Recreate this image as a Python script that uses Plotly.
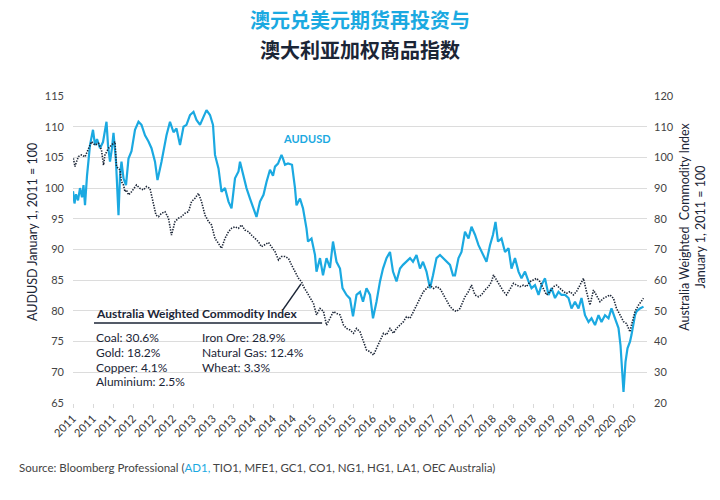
import plotly.graph_objects as go

# x = months since 1 Jan 2011
aud_month = [0.0,0.3,0.6,1.0,1.4,1.8,2.1,2.4,2.8,3.4,4.0,4.4,4.8,5.4,6.0,6.7,7.0,7.4,7.8,8.1,8.6,9.1,9.4,9.7,
             10.1,10.6,11.1,11.7,12.4,13.1,13.7,14.4,15.1,15.7,16.4,16.9,17.7,18.7,19.4,20.1,20.7,21.4,22.1,22.7,
             23.4,24.1,24.7,25.4,26.1,26.7,27.4,28.0,28.4,29.1,29.7,30.4,31.1,31.7,32.4,33.1,33.4,34.1,34.7,35.4,
             36.1,36.7,37.4,38.1,38.7,39.4,40.0,40.4,41.0,41.7,42.0,42.4,43.0,43.8,44.4,44.7,45.4,46.0,46.7,47.0,
             47.7,48.4,48.7,49.4,50.0,50.7,51.4,52.0,52.7,53.4,53.9,54.7,55.4,56.0,56.7,57.4,58.0,58.7,59.4,60.0,
             60.7,61.4,62.0,62.7,63.4,64.0,64.7,65.4,66.0,66.7,67.4,68.0,68.7,69.4,70.0,70.7,71.4,72.0,72.7,73.4,
             74.0,74.7,75.4,76.0,76.4,77.1,77.7,78.4,79.1,79.7,80.4,81.1,81.7,82.4,82.7,83.4,84.0,84.5,85.0,85.7,
             86.4,87.1,87.7,88.4,89.1,89.7,90.4,91.1,91.7,92.4,93.1,93.7,94.4,95.1,95.7,96.4,97.1,97.7,98.4,99.1,
             99.7,100.4,101.1,101.7,102.4,103.1,103.7,104.4,105.1,105.7,106.4,107.1,107.7,108.4,109.1,109.5,110.1,
             110.5,110.9,111.4,111.7,112.4,112.7,113.4,114.1]
aud_value = [99.5,97.5,99.0,98.0,100.0,98.5,100.5,97.2,102.0,107.0,109.5,107.0,108.0,106.5,107.5,110.8,107.0,104.3,106.5,109.0,104.3,95.6,102.0,104.3,
             101.6,100.5,104.8,106.0,109.5,110.8,110.3,108.6,107.6,106.5,104.3,101.3,104.3,108.6,110.8,109.1,109.7,107.0,110.0,110.3,
             111.9,112.4,111.1,110.3,111.6,112.7,111.9,110.3,105.4,103.2,99.4,100.0,97.8,96.7,101.6,102.7,104.3,102.1,100.0,98.3,
             96.7,95.3,97.8,98.9,101.0,103.0,102.0,103.5,104.0,105.4,104.8,103.8,104.0,103.8,100.0,97.2,98.3,96.7,93.4,91.3,
             91.8,89.1,86.4,88.6,85.8,88.6,87.0,91.3,88.0,86.9,83.7,82.6,82.0,79.1,82.6,83.1,81.5,83.7,82.6,78.8,
             81.5,84.8,86.9,88.6,89.6,86.4,84.8,86.9,87.5,88.0,88.6,88.0,89.1,86.9,88.0,86.4,83.7,85.8,88.6,89.1,
             88.6,88.0,87.5,85.8,85.8,88.6,89.6,92.9,91.8,93.7,92.4,90.7,89.6,88.6,88.0,90.7,92.4,94.5,91.3,91.8,
             89.6,90.2,86.9,88.6,86.4,85.3,86.4,84.8,83.7,84.2,82.6,84.2,85.3,82.6,83.7,82.1,83.1,82.6,82.6,82.1,
             80.4,81.5,80.4,82.1,79.3,78.2,78.8,77.7,79.3,78.2,79.3,78.8,80.4,78.8,77.2,74.4,66.8,
             71.7,73.9,75.0,76.1,79.3,79.9,80.4,80.7]

comm_month = [0.07,0.4,0.7,1.1,1.7,2.4,2.7,3.4,3.7,4.4,5.1,5.7,6.1,6.4,7.1,7.7,8.4,8.7,9.4,9.7,10.1,10.4,10.7,11.1,11.7,
              12.7,13.4,14.1,14.7,15.4,16.1,16.6,17.1,17.7,18.4,19.1,19.7,20.4,21.1,21.7,22.4,23.1,23.7,24.4,25.1,25.7,
              26.4,27.1,27.7,28.4,29.1,29.7,30.4,31.1,31.7,32.4,33.1,33.7,34.4,35.1,35.7,36.4,37.1,37.7,38.4,39.1,39.7,
              40.4,41.1,41.7,42.4,43.1,43.7,44.4,45.1,45.7,46.1,46.7,47.4,48.1,48.7,49.4,50.1,50.7,51.4,52.1,52.7,53.4,
              54.1,54.7,55.4,56.1,56.7,57.4,58.1,58.7,59.4,60.1,60.7,61.4,62.1,62.7,63.4,64.1,64.7,65.4,66.1,66.7,67.4,
              68.1,68.7,69.4,70.1,70.7,71.4,72.1,72.7,73.4,74.1,74.7,75.4,76.1,76.7,77.4,78.1,78.4,79.1,79.7,80.4,81.1,
              81.7,82.4,83.1,83.7,84.1,84.7,85.4,86.1,86.7,87.4,88.1,88.7,89.4,90.1,90.7,91.4,92.1,92.7,93.4,94.1,94.7,
              95.4,96.1,96.7,97.4,98.1,98.7,99.4,100.1,100.7,101.4,102.1,102.7,103.4,104.1,104.7,105.4,106.1,106.7,
              107.4,108.1,108.7,109.4,110.1,110.7,111.4,111.7,112.4,113.1,113.7,114.1]
comm_value = [99.7,97.0,98.6,100.3,100.8,100.2,101.3,104.0,105.1,104.0,104.6,102.4,97.5,100.8,103.0,104.0,105.1,97.0,95.9,92.1,91.0,88.8,89.4,87.8,88.8,
              91.0,89.9,89.4,90.5,89.9,84.5,81.2,80.7,81.8,82.3,80.2,74.7,79.1,80.2,80.7,81.8,82.3,85.6,86.7,88.3,85.6,
              81.2,79.1,78.0,73.6,72.0,70.4,73.6,75.8,76.9,77.4,76.9,78.0,76.3,75.8,74.7,73.6,72.5,70.9,71.5,72.3,70.9,
              69.3,66.6,67.7,67.7,67.1,65.0,62.8,60.6,59.5,57.9,56.3,54.1,52.4,48.7,50.8,49.8,45.4,47.6,49.8,49.2,48.7,
              45.4,44.3,43.8,42.7,44.3,43.2,40.0,37.3,36.7,35.6,37.8,40.0,42.7,42.2,44.3,42.7,44.3,45.4,46.5,48.1,47.6,
              49.8,52.0,54.1,56.3,57.3,58.4,57.3,57.9,57.3,55.2,53.0,51.4,50.3,49.8,50.8,53.5,54.6,56.3,58.4,55.2,54.6,
              55.2,56.8,57.9,59.5,61.7,60.0,58.4,56.3,55.2,57.3,59.0,58.4,57.9,58.4,57.9,59.5,60.0,60.6,59.5,57.3,55.2,
              56.3,57.9,58.4,57.3,56.3,55.7,56.3,55.2,56.3,58.4,60.6,56.3,51.9,56.8,55.2,53.0,54.1,54.6,
              55.2,54.1,50.8,48.7,46.5,45.9,43.2,45.4,49.8,51.9,53.5,54.1]

tick_month = [4 * i for i in range(29)]
tick_text = ["2011", "2011", "2011", "2012", "2012", "2012", "2013", "2013", "2013",
             "2014", "2014", "2014", "2015", "2015", "2015", "2016", "2016", "2016",
             "2017", "2017", "2017", "2018", "2018", "2018", "2019", "2019", "2019",
             "2020", "2020"]

weights_left = ["Coal: 30.6%", "Gold: 18.2%", "Copper: 4.1%", "Aluminium: 2.5%"]
weights_right = ["Iron Ore: 28.9%", "Natural Gas: 12.4%", "Wheat: 3.3%"]

CYAN = "#1ba9e1"
NAVY = "#1b2536"
FONT = "Lato"

fig = go.Figure()
fig.add_trace(go.Scatter(x=comm_month, y=comm_value, yaxis="y2", mode="lines",
                         line=dict(color=NAVY, width=1.6, dash="1.4px,1.3px"), showlegend=False))
fig.add_trace(go.Scatter(x=aud_month, y=aud_value, mode="lines",
                         line=dict(color=CYAN, width=2.2), showlegend=False))

fig.update_layout(
    width=720, height=500,
    margin=dict(l=73, r=73, t=96, b=97),
    plot_bgcolor="white", paper_bgcolor="white",
    font=dict(family=FONT, color="#333333", size=11),
    xaxis=dict(range=[0, 114.8], tickmode="array", tickvals=tick_month, ticktext=tick_text,
               tickangle=-45, showgrid=False, zeroline=False, showline=False,
               ticks="outside", ticklen=4, tickcolor="#d9d9d9",
               tickfont=dict(size=11, color="#333333")),
    yaxis=dict(range=[65, 115], dtick=5, showgrid=True, gridcolor="#dcdcdc", gridwidth=1,
               zeroline=False, showline=False, tickfont=dict(size=11, color="#444444"),
               ticks="", ticklabelstandoff=8),
    yaxis2=dict(range=[20, 120], dtick=10, overlaying="y", side="right", showgrid=False,
                zeroline=False, showline=False, tickfont=dict(size=11, color="#444444"),
                ticklabelstandoff=6),
)


def note(text, x, y, size=12, color=NAVY, xanchor="left", family=None, angle=0):
    f = dict(size=size, color=color)
    if family:
        f["family"] = family
    return dict(text=text, x=x, y=y, xref="paper", yref="paper", xanchor=xanchor,
                yanchor="middle", textangle=angle, showarrow=False, font=f)


ann = [
    note("<b>澳元兑美元期货再投资与</b>", 0.5, 1.248, 20, CYAN, "center", "Noto Sans CJK SC"),
    note("<b>澳大利亚加权商品指数</b>", 0.5, 1.153, 20, NAVY, "center", "Noto Sans CJK SC"),
    note("AUDUSD January 1, 2011 = 100", -0.0714, 0.557, 12.5, NAVY, "center", angle=-90),
    note("Australia Weighted  Commodity Index<br>January 1, 2011 = 100", 1.078, 0.573, 12.5, NAVY,
         "center", angle=-90),
    note("<b>AUDUSD</b>", 0.408, 0.863, 11, CYAN, "center"),
    note("<b>Australia Weighted Commodity Index</b>", 0.0366, 0.290, 12, NAVY),
]
rows_y = [0.213, 0.164, 0.115, 0.070]
for i, t in enumerate(weights_left):
    ann.append(note(t, 0.0366, rows_y[i], 12, NAVY))
for i, t in enumerate(weights_right):
    ann.append(note(t, 0.221, rows_y[i], 12, NAVY))
ann.append(note("Source: Bloomberg Professional (<span style='color:%s'>AD1,</span> TIO1, MFE1, GC1, CO1, NG1, HG1, LA1, OEC Australia)" % CYAN,
                -0.0976, -0.2085, 11.5, "#444444"))
fig.update_layout(annotations=ann)

fig.add_shape(type="line", xref="paper", yref="paper", x0=0.0366, x1=0.434, y0=0.2606, y1=0.2606,
              line=dict(color=NAVY, width=1.5))
fig.add_shape(type="line", xref="x", yref="y", x0=42.0, y0=80.2, x1=45.6, y1=84.4,
              line=dict(color=NAVY, width=1.5))

fig.write_html("out.html")
